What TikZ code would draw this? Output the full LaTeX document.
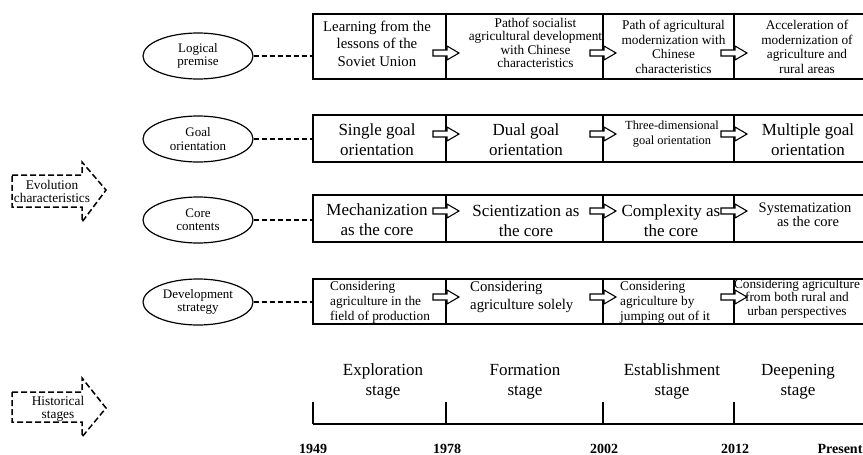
\documentclass[tikz,border=0pt]{standalone}
\usepackage{fontspec}
\setmainfont{Liberation Serif}
\usetikzlibrary{shapes.geometric}
\begin{document}
\begin{tikzpicture}[x=1pt,y=-1pt,
  cell/.style={draw, line width=1.2pt, inner sep=0pt},
  oval/.style={ellipse, draw, line width=1.2pt, minimum width=110pt, minimum height=46pt, inner sep=0pt, align=center, font=\fontsize{13}{13.5}\selectfont},
  link/.style={line width=1.6pt, dash pattern=on 5pt off 3pt},
  small/.style={align=center, inner sep=0pt, font=\fontsize{13.3}{14.7}\selectfont},
  big/.style={align=center, inner sep=0pt, font=\fontsize{17}{20}\selectfont},
  yearlab/.style={font=\fontsize{14}{16}\selectfont\bfseries, inner sep=0pt},
  bigarrow/.style={line width=1.5pt, dash pattern=on 6pt off 3pt},
  pics/blockarr/.style={code={\draw[line width=1.1pt, fill=white] (-13,-3) -- (1,-3) -- (1,-7) -- (13,0) -- (1,7) -- (1,3) -- (-13,3) -- cycle;}}
]
\useasboundingbox (0,0) rectangle (863,455);

% boxes
\foreach \r/\yc/\h in {1/46.5/65, 2/138.5/47, 3/218.5/47, 4/301.5/45}{
  \node[cell, minimum width=133pt, minimum height=\h pt] (b\r1) at (379.5,\yc) {};
  \node[cell, minimum width=157pt, minimum height=\h pt] (b\r2) at (524.5,\yc) {};
  \node[cell, minimum width=131pt, minimum height=\h pt] (b\r3) at (668.5,\yc) {};
  \node[cell, minimum width=131pt, minimum height=\h pt] (b\r4) at (799.5,\yc) {};
}

% ellipses
\node[oval] (e1) at (198,56) {Logical\\premise};
\node[oval] (e2) at (198,139) {Goal\\orientation};
\node[oval] (e3) at (198,220) {Core\\contents};
\node[oval] (e4) at (198,302) {Development\\strategy};
\foreach \r in {1,2,3,4}{
  \draw[link] (e\r.east) -- (e\r.east -| b\r1.west);
}

% row 1 texts
\node[align=center, inner sep=0pt, font=\fontsize{14.8}{17.5}\selectfont] (t11) at (377,43.5) {Learning from the\\lessons of the\\Soviet Union};
\node[align=center, inner sep=0pt, font=\fontsize{13.3}{13.4}\selectfont] (t12) at (535.5,43) {Pathof socialist\\agricultural development\\with Chinese\\characteristics};
\node[small] (t13) at (673.5,47) {Path of agricultural\\modernization with\\Chinese\\characteristics};
\node[small] (t14) at (807,47) {Acceleration of\\modernization of\\agriculture and\\rural areas};

% row 2 texts
\node[big] (t21) at (377,139.5) {Single goal\\orientation};
\node[big] (t22) at (526,139.5) {Dual goal\\orientation};
\node[align=center, inner sep=0pt, font=\fontsize{12.4}{15}\selectfont] (t23) at (672,134.5) {Three-dimensional\\goal orientation};
\node[big] (t24) at (808,139.5) {Multiple goal\\orientation};

% row 3 texts
\node[big] (t31) at (377,219.5) {Mechanization\\as the core};
\node[big] (t32) at (526,221) {Scientization as\\the core};
\node[big] (t33) at (671,221) {Complexity as\\the core};
\node[align=center, inner sep=0pt, font=\fontsize{14.5}{14}\selectfont] (t34) at (805,215) {Systematization\\\hspace*{6pt}as the core};

% row 4 texts
\node[anchor=west, align=left, inner sep=0pt, font=\fontsize{13.3}{15}\selectfont] (t41) at (330,302) {Considering\\agriculture in the\\field of production};
\node[anchor=west, align=left, inner sep=0pt, font=\fontsize{14.8}{18}\selectfont] (t42) at (470,297) {Considering\\agriculture solely};
\node[anchor=west, align=left, inner sep=0pt, font=\fontsize{13.3}{15}\selectfont] (t43) at (620,302) {Considering\\agriculture by\\jumping out of it};
\node[align=center, inner sep=0pt, font=\fontsize{13.3}{13.5}\selectfont] (t44) at (797,298.5) {Considering agriculture\\from both rural and\\urban perspectives};

% arrows between boxes
\foreach \yy in {53,134,211,297}{
  \foreach \xx in {446,603,734}{
    \pic at (\xx,\yy) {blockarr};
  }
}

% evolution / historical dashed arrows
\draw[bigarrow] (12,175) -- (82,175) -- (82,162) -- (106,190) -- (82,222) -- (82,207) -- (12,207) -- cycle;
\node[align=center, inner sep=0pt, font=\fontsize{13.3}{13}\selectfont] (ev) at (52,191.5) {Evolution\\characteristics};
\draw[bigarrow] (12,392) -- (82,392) -- (82,378) -- (106,408) -- (82,437) -- (82,422) -- (12,422) -- cycle;
\node[align=center, inner sep=0pt, font=\fontsize{13.3}{13}\selectfont] (hs) at (58,408.5) {Historical\\stages};

% timeline
\coordinate (ta) at (313,424);
\coordinate (tb) at (446,424);
\coordinate (tc) at (603,424);
\coordinate (td) at (734,424);
\coordinate (te) at (866,424);
\draw[line width=1.2pt] (ta) -- (te);
\foreach \c in {ta,tb,tc,td}{
  \draw[line width=1.2pt] (\c) -- ++(0,-22);
}
\node[big] (s1) at (383,381.5) {Exploration\\stage};
\node[big] (s2) at (525,381.5) {Formation\\stage};
\node[big] (s3) at (672,381.5) {Establishment\\stage};
\node[big] (s4) at (798,381.5) {Deepening\\stage};

\node[yearlab] (y1) at (313,449) {1949};
\node[yearlab] (y2) at (447,449) {1978};
\node[yearlab] (y3) at (604,449) {2002};
\node[yearlab] (y4) at (735,449) {2012};
\node[yearlab] (y5) at (840,449) {Present};
\end{tikzpicture}
\end{document}
